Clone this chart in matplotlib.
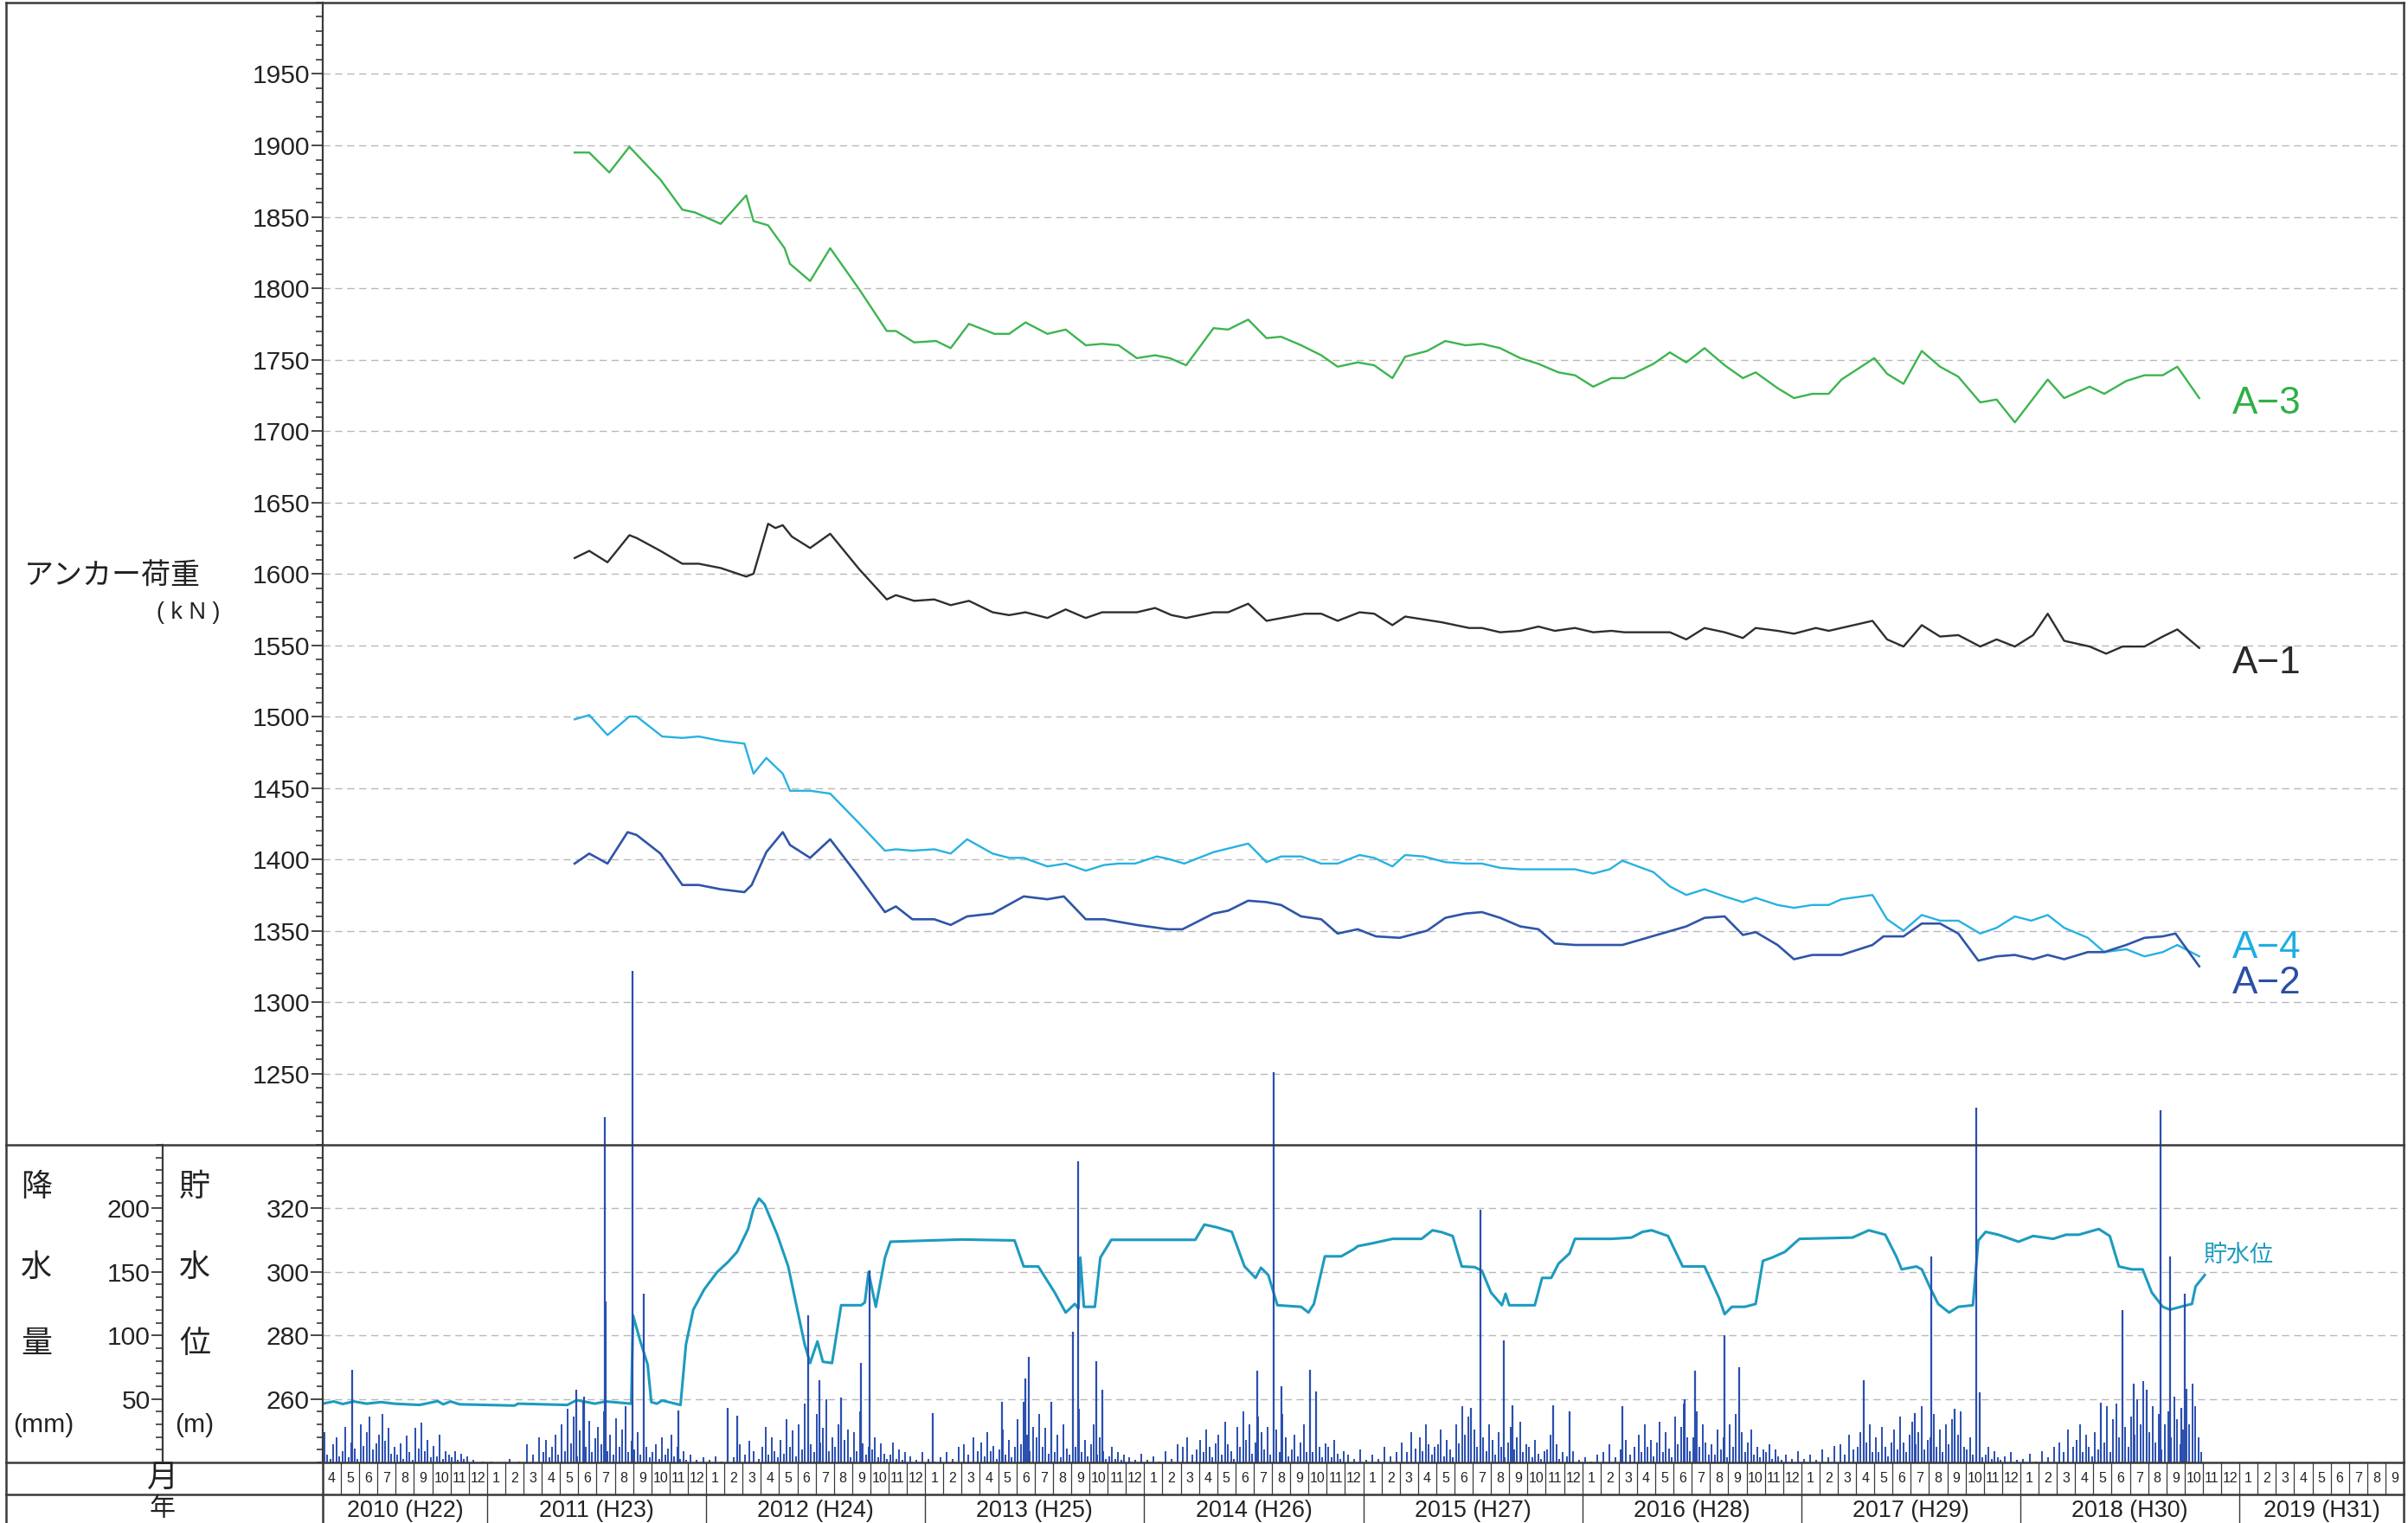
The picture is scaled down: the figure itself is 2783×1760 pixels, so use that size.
import matplotlib
matplotlib.use('Agg')
import matplotlib.pyplot as plt
from matplotlib.lines import Line2D
from matplotlib.ticker import MultipleLocator, FixedLocator

plt.rcParams['font.family'] = ['Liberation Sans Narrow', 'Liberation Sans', 'Noto Sans CJK JP', 'DejaVu Sans']
JP = ['Noto Sans CJK JP', 'DejaVu Sans']

# x axis: months counted from 2010-04-01 (0) to 2019-10-01 (114)
years = [2010, 2011, 2012, 2013, 2014, 2015, 2016, 2017, 2018, 2019]
year_labels = ['2010 (H22)', '2011 (H23)', '2012 (H24)', '2013 (H25)', '2014 (H26)',
               '2015 (H27)', '2016 (H28)', '2017 (H29)', '2018 (H30)', '2019 (H31)']
first_month, last_month = 4, 9

# anchor loads (kN)
a3_month = [13.8, 14.6, 15.7, 16.8, 18.5, 19.7, 20.4, 21.8, 23.2, 23.6, 24.4, 25.3, 25.6, 26.7, 27.8,
            29.4, 30.9, 31.4, 32.4, 33.6, 34.4, 35.4, 36.8, 37.6, 38.5, 39.7, 40.7, 41.8, 42.7, 43.6,
            44.6, 45.6, 46.4, 47.3, 48.8, 49.6, 50.7, 51.7, 52.5, 53.6, 54.7, 55.6, 56.7, 57.6, 58.6,
            59.3, 60.5, 61.5, 62.6, 63.5, 64.5, 65.6, 66.6, 67.7, 68.6, 69.6, 70.6, 71.3, 72.9, 73.8,
            74.7, 75.7, 76.8, 77.8, 78.5, 79.7, 80.6, 81.6, 82.5, 83.2, 85.0, 85.7, 86.6, 87.6, 88.6,
            89.6, 90.8, 91.7, 92.7, 94.5, 95.4, 96.8, 97.6, 98.8, 99.8, 100.8, 101.6, 102.8]
a3_kn = [1895, 1895, 1881, 1899, 1876, 1855, 1853, 1845, 1865, 1847, 1844, 1828, 1817, 1805, 1828,
         1799, 1770, 1770, 1762, 1763, 1758, 1775, 1768, 1768, 1776, 1768, 1771, 1760, 1761, 1760,
         1751, 1753, 1751, 1746, 1772, 1771, 1778, 1765, 1766, 1760, 1753, 1745, 1748, 1746, 1737,
         1752, 1756, 1763, 1760, 1761, 1758, 1751, 1747, 1741, 1739, 1731, 1737, 1737, 1747, 1755,
         1748, 1758, 1746, 1737, 1741, 1730, 1723, 1726, 1726, 1736, 1751, 1740, 1733, 1756, 1745,
         1738, 1720, 1722, 1706, 1736, 1723, 1731, 1726, 1735, 1739, 1739, 1745, 1723]

a1_month = [13.8, 14.6, 15.6, 16.8, 17.2, 18.5, 19.7, 20.6, 21.8, 23.2, 23.6, 24.4, 24.8, 25.2, 25.7,
            26.7, 27.8, 29.4, 30.9, 31.4, 32.4, 33.5, 34.4, 35.4, 36.7, 37.6, 38.5, 39.7, 40.7, 41.8,
            42.7, 44.6, 45.6, 46.5, 47.3, 48.8, 49.6, 50.7, 51.7, 53.8, 54.7, 55.6, 56.8, 57.6, 58.6,
            59.3, 61.3, 62.8, 63.5, 64.5, 65.6, 66.6, 67.5, 68.6, 69.6, 70.6, 71.3, 73.8, 74.7, 75.7,
            76.8, 77.8, 78.5, 79.7, 80.6, 81.8, 82.5, 84.9, 85.7, 86.6, 87.6, 88.6, 89.6, 90.8, 91.7,
            92.7, 93.7, 94.5, 95.4, 96.8, 97.7, 98.6, 99.8, 100.8, 101.6, 102.8]
a1_kn = [1611, 1616, 1608, 1627, 1625, 1616, 1607, 1607, 1604, 1598, 1600, 1635, 1632, 1634, 1626,
         1618, 1628, 1603, 1582, 1585, 1581, 1582, 1578, 1581, 1573, 1571, 1573, 1569, 1575, 1569,
         1573, 1573, 1576, 1571, 1569, 1573, 1573, 1579, 1567, 1572, 1572, 1567, 1573, 1572, 1564,
         1570, 1566, 1562, 1562, 1559, 1560, 1563, 1560, 1562, 1559, 1560, 1559, 1559, 1554, 1562,
         1559, 1555, 1562, 1560, 1558, 1562, 1560, 1567, 1554, 1549, 1564, 1556, 1557, 1549, 1554,
         1549, 1557, 1572, 1553, 1549, 1544, 1549, 1549, 1556, 1561, 1548]

a4_month = [13.8, 14.6, 15.6, 16.8, 17.2, 18.6, 19.7, 20.6, 21.8, 23.1, 23.6, 24.3, 25.2, 25.6, 26.7,
            27.8, 29.4, 30.8, 31.4, 32.3, 33.5, 34.4, 35.3, 36.7, 37.6, 38.4, 39.7, 40.7, 41.8, 42.8,
            43.6, 44.5, 45.7, 46.4, 47.2, 48.8, 50.7, 51.7, 52.5, 53.6, 54.7, 55.6, 56.8, 57.6, 58.6,
            59.3, 60.3, 61.5, 62.6, 63.5, 64.5, 65.6, 66.6, 68.6, 69.6, 70.5, 71.2, 72.9, 73.8, 74.7,
            75.7, 76.8, 77.8, 78.5, 79.7, 80.6, 81.6, 82.5, 83.2, 84.9, 85.7, 86.6, 87.6, 88.6, 89.6,
            90.8, 91.7, 92.7, 93.6, 94.5, 95.4, 96.7, 97.6, 98.8, 99.8, 100.8, 101.6, 102.8]
a4_kn = [1498, 1501, 1487, 1500, 1500, 1486, 1485, 1486, 1483, 1481, 1460, 1471, 1460, 1448, 1448,
         1446, 1425, 1406, 1407, 1406, 1407, 1404, 1414, 1404, 1401, 1401, 1395, 1397, 1392, 1396,
         1397, 1397, 1402, 1400, 1397, 1405, 1411, 1398, 1402, 1402, 1397, 1397, 1403, 1401, 1395,
         1403, 1402, 1398, 1397, 1397, 1394, 1393, 1393, 1393, 1390, 1393, 1399, 1391, 1381, 1375,
         1379, 1374, 1370, 1373, 1368, 1366, 1368, 1368, 1372, 1375, 1358, 1350, 1361, 1357, 1357,
         1348, 1352, 1360, 1357, 1361, 1352, 1345, 1335, 1337, 1332, 1335, 1340, 1332]

a2_month = [13.8, 14.6, 15.6, 16.7, 17.2, 18.5, 19.7, 20.6, 21.8, 23.1, 23.5, 24.3, 25.2, 25.6, 26.7,
            27.8, 29.3, 30.8, 31.4, 32.3, 33.5, 34.4, 35.3, 36.7, 38.4, 39.7, 40.6, 41.8, 42.8, 44.6,
            46.3, 47.1, 48.8, 49.6, 50.7, 51.7, 52.5, 53.6, 54.7, 55.6, 56.7, 57.7, 59.0, 60.5, 61.5,
            62.6, 63.5, 64.5, 65.6, 66.6, 67.5, 68.6, 71.2, 74.7, 75.7, 76.8, 77.8, 78.5, 79.7, 80.6,
            81.6, 83.2, 84.9, 85.5, 86.6, 87.6, 88.6, 89.6, 90.7, 91.7, 92.7, 93.7, 94.5, 95.4, 96.7,
            97.6, 98.8, 99.8, 100.8, 101.5, 102.8]
a2_kn = [1397, 1404, 1397, 1419, 1417, 1404, 1382, 1382, 1379, 1377, 1382, 1405, 1419, 1410, 1401,
         1414, 1389, 1363, 1367, 1358, 1358, 1354, 1360, 1362, 1374, 1372, 1374, 1358, 1358, 1354,
         1351, 1351, 1362, 1364, 1371, 1370, 1368, 1360, 1358, 1348, 1351, 1346, 1345, 1350, 1359,
         1362, 1363, 1359, 1353, 1351, 1341, 1340, 1340, 1353, 1359, 1360, 1347, 1349, 1340, 1330,
         1333, 1333, 1340, 1346, 1346, 1355, 1355, 1348, 1329, 1332, 1333, 1330, 1333, 1330, 1335,
         1335, 1340, 1345, 1346, 1348, 1325]

# reservoir water level (m)
wl_month = [0.0, 0.6, 1.1, 1.7, 2.4, 3.2, 3.9, 5.3, 6.3, 6.6, 7.0, 7.5, 10.5, 10.7, 13.4, 13.9, 14.3,
            14.9, 15.5, 16.9, 17.0, 17.4, 17.8, 18.0, 18.3, 18.6, 19.6, 19.9, 20.3, 20.9, 21.6, 22.2,
            22.7, 23.3, 23.6, 23.9, 24.2, 24.9, 25.5, 26.0, 26.4, 26.7, 27.1, 27.4, 27.9, 28.4, 29.5,
            29.7, 29.9, 30.3, 30.8, 31.1, 35.0, 37.9, 38.4, 39.2, 40.1, 40.7, 41.2, 41.4, 41.5, 41.7,
            42.3, 42.6, 43.2, 47.8, 48.3, 49.0, 49.8, 50.5, 51.1, 51.4, 51.8, 52.3, 53.6, 54.0, 54.3,
            54.9, 55.8, 56.5, 56.7, 57.5, 58.6, 60.2, 60.8, 61.3, 61.9, 62.4, 63.1, 63.5, 64.0, 64.6,
            64.8, 65.0, 66.4, 66.8, 67.3, 67.7, 68.3, 68.6, 70.6, 71.7, 72.3, 72.8, 73.7, 74.5, 75.7,
            76.5, 76.8, 77.2, 77.9, 78.5, 78.9, 79.4, 80.1, 80.9, 83.8, 84.7, 85.6, 86.2, 86.5, 87.3,
            87.6, 88.1, 88.5, 89.1, 89.6, 90.4, 90.7, 91.1, 91.8, 92.9, 93.7, 94.8, 95.5, 96.2, 97.3,
            97.9, 98.4, 99.1, 99.7, 100.2, 100.8, 101.2, 102.1, 102.4, 102.6, 103.1]
wl_level = [258.5, 259.2, 258.4, 259.2, 258.5, 259.0, 258.5, 258.1, 259.3, 258.3, 259.2, 258.3, 257.9,
            258.5, 258.1, 259.6, 259.2, 258.5, 259.2, 258.5, 286.3, 278.1, 270.8, 259.0, 258.5, 259.5,
            258.1, 277.2, 288.1, 294.5, 299.9, 303.1, 306.3, 313.5, 319.9, 323.1, 321.3, 311.7, 301.7,
            288.1, 277.2, 271.3, 278.1, 271.7, 271.3, 289.5, 289.5, 290.4, 299.9, 289.0, 304.5, 309.5,
            310.2, 309.9, 301.7, 301.7, 293.5, 287.2, 289.9, 288.5, 304.5, 289.0, 289.0, 304.5, 310.1,
            310.1, 314.9, 314.0, 312.6, 301.7, 298.1, 301.3, 299.0, 289.5, 289.0, 287.2, 289.9, 304.9,
            304.9, 307.2, 308.1, 309.0, 310.4, 310.4, 313.1, 312.5, 311.3, 301.7, 301.5, 300.4, 293.5,
            289.5, 293.1, 289.5, 289.5, 298.1, 298.1, 302.6, 305.8, 310.4, 310.4, 310.8, 312.6, 313.1,
            311.3, 301.7, 301.7, 291.7, 286.7, 289.0, 289.0, 289.9, 303.5, 304.5, 306.3, 310.4, 310.8,
            313.1, 311.7, 304.9, 300.8, 301.7, 300.8, 294.5, 289.9, 287.2, 289.0, 289.5, 309.9, 312.6,
            311.7, 309.5, 311.3, 310.4, 311.7, 311.7, 313.5, 311.3, 301.7, 300.8, 300.8, 293.5, 289.0,
            288.1, 289.5, 289.9, 295.4, 299.0]

# daily rainfall (mm): larger events, read one by one
rain_big_month = [1.6, 13.9, 14.3, 15.45, 15.5, 16.97, 17.6, 19.5, 22.2, 22.7, 26.6, 27.2, 28.4, 29.5,
                  29.95, 33.4, 37.2, 38.5, 38.7, 39.9, 41.1, 41.4, 42.4, 42.7, 51.2, 52.1, 52.5, 54.1,
                  54.4, 62.9, 63.4, 64.7, 65.2, 67.4, 68.3, 71.2, 74.6, 75.2, 76.8, 77.6, 84.4, 87.2,
                  88.1, 89.4, 90.6, 90.75, 97.4, 98.6, 99.2, 99.9, 100.7, 101.2, 101.8, 102.0]
rain_big_mm = [73, 57, 52, 272, 127, 387, 133, 41, 43, 37, 116, 65, 51, 78,
               151, 39, 48, 66, 83, 48, 103, 237, 80, 57, 72, 307, 60, 73,
               56, 43, 199, 96, 45, 45, 40, 44, 50, 72, 100, 75, 65, 39,
               162, 42, 279, 55, 47, 120, 62, 57, 277, 162, 43, 133]

# daily rainfall (mm): smaller rainy days, month by month (Apr..Mar)
rain_fy2010 = [[24, 6, 3, 14, 20, 5], [9, 28, 4, 16, 11, 3], [30, 13, 24, 36, 10, 15], [22, 38, 17, 27, 7, 12],
               [6, 15, 3, 21, 8, 2], [27, 11, 31, 9, 18, 4], [13, 5, 22, 3, 9, 6], [4, 9, 2, 7, 3, 5],
               [2, 1], [1, 0], [3, 1], [14, 6, 20]]
rain_fy2011 = [[8, 18, 4, 12, 22, 6], [30, 9, 42, 15, 36, 5], [25, 48, 12, 33, 8, 19], [28, 14, 40, 9, 22, 6],
               [35, 12, 26, 44, 8, 17], [10, 24, 6, 30, 12, 4], [8, 14, 3, 20, 6, 11], [22, 5, 12, 3, 9, 2],
               [6, 2, 4], [2, 5, 1], [10, 4, 14], [6, 17, 9, 3]]
rain_fy2012 = [[12, 28, 6, 20, 9, 4], [18, 7, 34, 12, 25, 5], [30, 10, 46, 22, 14, 8], [38, 16, 27, 50, 9, 20],
               [12, 30, 6, 18, 26, 4], [24, 9, 40, 15, 6, 12], [10, 20, 4, 15, 7, 3], [6, 16, 3, 10, 2, 8],
               [5, 2, 8], [3, 1, 4], [8, 3, 12], [14, 6, 20, 9]]
rain_fy2013 = [[16, 5, 24, 9, 13, 3], [10, 26, 6, 18, 4, 12], [34, 14, 48, 22, 9, 28], [20, 38, 12, 27, 7, 15],
               [8, 22, 4, 30, 11, 6], [26, 12, 42, 8, 18, 5], [14, 30, 6, 20, 9, 3], [5, 12, 3, 8, 2, 6],
               [4, 2, 7], [2, 5, 1], [9, 3, 14], [12, 20, 6, 10]]
rain_fy2014 = [[18, 8, 26, 12, 4, 15], [22, 6, 32, 14, 9, 3], [28, 12, 40, 18, 30, 7], [16, 36, 24, 10, 28, 6],
               [14, 26, 8, 38, 20, 5], [10, 22, 5, 16, 30, 8], [20, 8, 34, 12, 4, 15], [12, 4, 18, 7, 3, 9],
               [6, 3, 10], [2, 6, 3], [12, 5, 8], [16, 8, 24, 11]]
rain_fy2015 = [[20, 9, 30, 14, 6, 12], [14, 26, 5, 18, 10, 4], [30, 15, 44, 22, 36, 10], [26, 12, 38, 20, 9, 30],
               [18, 6, 24, 12, 4, 16], [28, 10, 20, 32, 8, 14], [12, 4, 18, 7, 3, 9], [10, 22, 6, 14, 3, 8],
               [5, 9, 2], [4, 1, 6], [8, 14, 4], [10, 18, 6, 12]]
rain_fy2016 = [[22, 8, 30, 12, 18, 5], [16, 32, 8, 24, 11, 4], [36, 14, 28, 46, 20, 9], [20, 40, 12, 30, 16, 6],
               [14, 6, 26, 10, 20, 4], [30, 12, 38, 18, 24, 8], [16, 26, 6, 12, 4, 10], [8, 14, 3, 10, 5, 2],
               [6, 3, 9], [3, 6, 2], [10, 4, 13], [14, 6, 22, 10]]
rain_fy2017 = [[12, 24, 6, 16, 30, 8], [20, 8, 28, 12, 5, 16], [26, 10, 36, 16, 8, 22], [32, 14, 24, 44, 10, 18],
               [20, 38, 12, 26, 8, 30], [14, 34, 8, 22, 40, 12], [10, 20, 6, 28, 12, 4], [6, 12, 3, 9, 4, 2],
               [5, 8, 2], [3, 7, 1], [9, 4, 12], [16, 8, 26, 12]]
rain_fy2018 = [[18, 30, 8, 22, 12, 5], [24, 10, 40, 16, 44, 8], [34, 46, 20, 56, 28, 12], [36, 22, 50, 30, 64, 18],
               [24, 44, 16, 38, 10, 30], [40, 20, 52, 34, 14, 26], [58, 30, 62, 44, 20, 8]]

# ---------------------------------------------------------------- layout (pixels of the 2783x1760 page)
W, H = 2783, 1760
X_LEFT, X_RAIN, X0, X1 = 7, 188, 373, 2778
Y_TOP, Y_SEP, Y_MON, Y_YEAR = 3, 1323, 1690, 1727
EDGE = '#3a3a3a'
GRID = '#b8b8b8'


def fx(px):
    return px / W


def fy(py):
    return 1 - py / H


def pt(px):
    return px * 72 / 100


fig = plt.figure(figsize=(W / 100, H / 100), dpi=100)
n_months = (years[-1] - years[0]) * 12 + last_month - first_month + 1

# ---------------------------------------------------------------- anchor load panel
ax = fig.add_axes([fx(X0), fy(Y_SEP), fx(X1) - fx(X0), fy(Y_TOP) - fy(Y_SEP)])
ax.set_xlim(0, n_months)
ax.set_ylim(1200, 2000)
for s in ['top', 'right', 'bottom']:
    ax.spines[s].set_visible(False)
ax.spines['left'].set_color(EDGE)
ax.spines['left'].set_linewidth(1.6)
ax.set_xticks([])
ax.yaxis.set_major_locator(FixedLocator(list(range(1250, 2000, 50))))
ax.yaxis.set_minor_locator(MultipleLocator(10))
ax.tick_params(axis='y', which='major', length=pt(13), width=1.3, color=EDGE,
               labelsize=pt(30), labelcolor='#222222', pad=1)
ax.tick_params(axis='y', which='minor', length=pt(8), width=1.2, color=EDGE)
for v in range(1250, 2000, 50):
    ax.axhline(v, color=GRID, lw=1.0, ls=(0, (6, 4)), zorder=0)

ax.plot(a3_month, a3_kn, color='#3cb54f', lw=1.7)
ax.plot(a1_month, a1_kn, color='#2e2e2e', lw=1.7)
ax.plot(a4_month, a4_kn, color='#27b1e3', lw=1.7)
ax.plot(a2_month, a2_kn, color='#2f55a8', lw=1.9)

lab_x = 104.6
ax.text(lab_x, 1719, 'A\u22123', color='#2fb046', fontsize=pt(44), va='center', ha='left')
ax.text(lab_x, 1537, 'A\u22121', color='#2a2a2a', fontsize=pt(44), va='center', ha='left')
ax.text(lab_x, 1338, 'A\u22124', color='#1eaee3', fontsize=pt(44), va='center', ha='left')
ax.text(lab_x, 1313, 'A\u22122', color='#2a4fa6', fontsize=pt(44), va='center', ha='left')

# ---------------------------------------------------------------- water level / rainfall panel
axw = fig.add_axes([fx(X0), fy(Y_MON), fx(X1) - fx(X0), fy(Y_SEP) - fy(Y_MON)])
axw.set_xlim(0, n_months)
axw.set_ylim(240, 340)
for s in ['top', 'right', 'bottom']:
    axw.spines[s].set_visible(False)
axw.spines['left'].set_color(EDGE)
axw.spines['left'].set_linewidth(1.6)
axw.set_xticks([])
axw.yaxis.set_major_locator(FixedLocator([260, 280, 300, 320]))
axw.yaxis.set_minor_locator(MultipleLocator(4))
axw.tick_params(axis='y', which='major', length=pt(14), width=1.3, color=EDGE,
                labelsize=pt(30), labelcolor='#222222', pad=1)
axw.tick_params(axis='y', which='minor', length=pt(7), width=1.2, color=EDGE)
for v in [260, 280, 300, 320]:
    axw.axhline(v, color=GRID, lw=1.0, ls=(0, (6, 4)), zorder=0)
axw.plot(wl_month, wl_level, color='#1d9bbf', lw=2.2)
axw.text(103.0, 305.4, '貯水位', family=JP, color='#1d9bbf', fontsize=pt(27), va='center', ha='left')

axr = axw.twinx()
axr.set_ylim(0, 250)
axr.set_xlim(0, n_months)
for s in ['top', 'right', 'bottom']:
    axr.spines[s].set_visible(False)
axr.spines['left'].set_visible(True)
axr.spines['left'].set_position(('axes', (X_RAIN - X0) / (X1 - X0)))
axr.spines['left'].set_color(EDGE)
axr.spines['left'].set_linewidth(1.6)
axr.yaxis.set_ticks_position('left')
axr.yaxis.set_label_position('left')
axr.yaxis.set_major_locator(FixedLocator([50, 100, 150, 200]))
axr.yaxis.set_minor_locator(MultipleLocator(10))
axr.tick_params(axis='y', which='major', length=pt(13), width=1.3, color=EDGE,
                labelsize=pt(30), labelcolor='#222222', pad=1)
axr.tick_params(axis='y', which='minor', length=pt(8), width=1.2, color=EDGE)

rain_x, rain_v = [], []
m = 0
for fy_list in [rain_fy2010, rain_fy2011, rain_fy2012, rain_fy2013, rain_fy2014,
                rain_fy2015, rain_fy2016, rain_fy2017, rain_fy2018]:
    for vals in fy_list:
        k = len(vals)
        for j, v in enumerate(vals):
            rain_x.append(m + (j + 0.5) / k)
            rain_v.append(v)
        m += 1
axr.vlines(rain_x, 0, rain_v, color='#2a4fb0', lw=1.4)
axr.vlines(rain_big_month, 0, rain_big_mm, color='#2a4fb0', lw=1.6, clip_on=False, zorder=5)

# ---------------------------------------------------------------- month / year rows
axc = fig.add_axes([fx(X0), fy(H), fx(X1) - fx(X0), fy(Y_MON) - fy(H)])
axc.set_xlim(0, n_months)
axc.set_ylim(H, Y_MON)
axc.axis('off')
month_nums = []
for yr in years:
    m0 = first_month if yr == years[0] else 1
    m1 = last_month if yr == years[-1] else 12
    month_nums += list(range(m0, m1 + 1))
for i, mn in enumerate(month_nums):
    axc.text(i + 0.5, (Y_MON + Y_YEAR) / 2, str(mn), ha='center', va='center',
             fontsize=pt(16), color='#222222')
    if i > 0:
        axc.plot([i, i], [Y_MON, Y_YEAR], color=EDGE, lw=0.9)
start = 0
for yr, lab in zip(years, year_labels):
    n = (13 - first_month if yr == years[0] else (last_month if yr == years[-1] else 12))
    axc.text(start + n / 2, (Y_YEAR + H) / 2 + 2, lab, ha='center', va='center',
             fontsize=pt(27), color='#222222')
    if start > 0:
        axc.plot([start, start], [Y_YEAR, H], color=EDGE, lw=1.0)
    start += n

# ---------------------------------------------------------------- frame lines
def fline(x0, y0, x1, y1, lw=1.8):
    fig.add_artist(Line2D([fx(x0), fx(x1)], [fy(y0), fy(y1)], color=EDGE, lw=lw))


fline(X_LEFT, Y_TOP, X1, Y_TOP)
fline(X_LEFT, Y_TOP, X_LEFT, H)
fline(X1, Y_TOP, X1, H)
fline(X_LEFT, Y_SEP, X1, Y_SEP)
fline(X_LEFT, Y_MON, X1, Y_MON)
fline(X_LEFT, Y_YEAR, X1, Y_YEAR)
fline(X0, Y_MON, X0, H)

# ---------------------------------------------------------------- left labels
fig.text(fx(28), fy(665), 'アンカー荷重', family=JP, fontsize=pt(34), va='center', ha='left', color='#222222')
fig.text(fx(218), fy(708), '( k N )', fontsize=pt(27), va='center', ha='center', color='#222222')
for ch, yy in zip('降水量', [1372, 1465, 1553]):
    fig.text(fx(42), fy(yy), ch, family=JP, fontsize=pt(36), va='center', ha='center', color='#222222')
for ch, yy in zip('貯水位', [1372, 1465, 1553]):
    fig.text(fx(225), fy(yy), ch, family=JP, fontsize=pt(36), va='center', ha='center', color='#222222')
fig.text(fx(50), fy(1647), '(mm)', fontsize=pt(30), va='center', ha='center', color='#222222')
fig.text(fx(225), fy(1647), '(m)', fontsize=pt(30), va='center', ha='center', color='#222222')
fig.text(fx(188), fy(1708), '月', family=JP, fontsize=pt(36), va='center', ha='center', color='#222222')
fig.text(fx(188), fy(1743), '年', family=JP, fontsize=pt(30), va='center', ha='center', color='#222222')

fig.savefig('out.png', dpi=100)
